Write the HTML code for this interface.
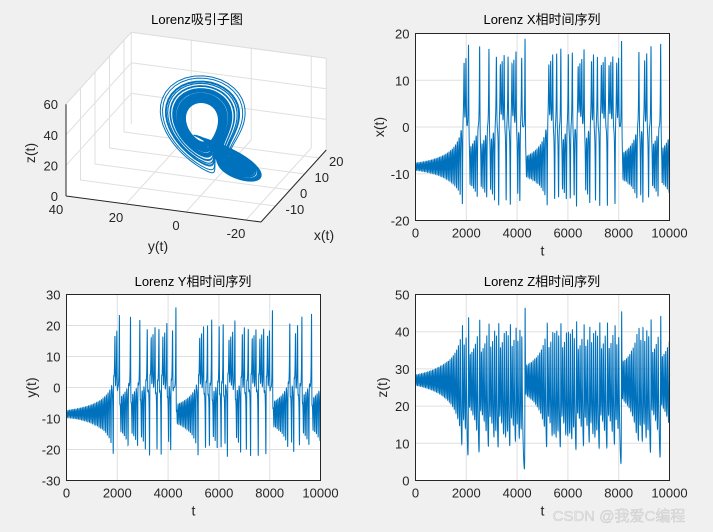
<!DOCTYPE html>
<html><head><meta charset="utf-8"><style>
html,body{margin:0;padding:0;background:#f0f0f0;}
svg{display:block;font-family:"Liberation Sans","Noto Sans CJK SC",sans-serif;}
</style></head><body>
<svg id="s" width="713" height="532" viewBox="0 0 713 532" xmlns="http://www.w3.org/2000/svg">
<rect width="713" height="532" fill="#f0f0f0"/>
<g id="g3d"></g>
<g id="gts"></g>
<text x="197" y="24" font-size="13" text-anchor="middle" fill="#000">Lorenz吸引子图</text>
<text x="542" y="24" font-size="13" text-anchor="middle" fill="#000">Lorenz X相时间序列</text>
<text x="193" y="286" font-size="13" text-anchor="middle" fill="#000">Lorenz Y相时间序列</text>
<text x="542" y="286" font-size="13" text-anchor="middle" fill="#000">Lorenz Z相时间序列</text>
<text x="619" y="521" font-size="15" text-anchor="middle" fill="#e4e4e4" stroke="#bdbdbd" stroke-width="0.3">CSDN @我爱C编程</text>
</svg>
<script>
var NS="http://www.w3.org/2000/svg";
function el(p,t,a,txt){var e=document.createElementNS(NS,t);for(var k in a)e.setAttribute(k,a[k]);if(txt!==undefined)e.textContent=txt;p.appendChild(e);return e;}
var N=10000,dt=0.01,s=10,r=28,b=8/3;
var X=[],Y=[],Z=[];
var x=-7.6,y=-7.6,z=27.6;
function f(x,y,z){return [s*(y-x),x*(r-z)-y,x*y-b*z];}
for(var i=0;i<N;i++){X.push(x);Y.push(y);Z.push(z);
var k1=f(x,y,z),k2=f(x+dt/2*k1[0],y+dt/2*k1[1],z+dt/2*k1[2]),k3=f(x+dt/2*k2[0],y+dt/2*k2[1],z+dt/2*k2[2]),k4=f(x+dt*k3[0],y+dt*k3[1],z+dt*k3[2]);
x+=dt/6*(k1[0]+2*k2[0]+2*k3[0]+k4[0]);y+=dt/6*(k1[1]+2*k2[1]+2*k3[1]+k4[1]);z+=dt/6*(k1[2]+2*k2[2]+2*k3[2]+k4[2]);}
var gts=document.getElementById('gts');
function ts(D,x0,y0,w,h,ymin,ymax,ystep,ylab,ylx){
 el(gts,'rect',{x:x0,y:y0,width:w,height:h,fill:'#fff'});
 for(var t=0;t<=10000;t+=2000){var px=x0+t/10000*w;
  if(t>0&&t<10000)el(gts,'line',{x1:px,y1:y0,x2:px,y2:y0+h,stroke:'#dfdfdf','stroke-width':1});
  el(gts,'text',{x:px,y:y0+h+17,'font-size':13,'text-anchor':'middle',fill:'#262626'},t);}
 for(var v=ymin;v<=ymax;v+=ystep){var py=y0+h-(v-ymin)/(ymax-ymin)*h;
  if(v>ymin&&v<ymax)el(gts,'line',{x1:x0,y1:py,x2:x0+w,y2:py,stroke:'#dfdfdf','stroke-width':1});
  el(gts,'text',{x:x0-6,y:py+5,'font-size':13,'text-anchor':'end',fill:'#262626'},v);}
 var pts=[];for(var i=0;i<D.length;i++){pts.push((x0+i/(D.length-1)*w).toFixed(2)+','+(y0+h-(D[i]-ymin)/(ymax-ymin)*h).toFixed(2));}
 el(gts,'polyline',{points:pts.join(' '),fill:'none',stroke:'#0072bd','stroke-width':1});
 el(gts,'rect',{x:x0,y:y0,width:w,height:h,fill:'none',stroke:'#262626','stroke-width':1});
 el(gts,'text',{x:x0+w/2,y:y0+h+35,'font-size':14,'text-anchor':'middle',fill:'#262626'},'t');
 el(gts,'text',{x:ylx,y:y0+h/2,'font-size':14,'text-anchor':'middle',fill:'#262626',transform:'rotate(-90 '+ylx+' '+(y0+h/2)+')'},ylab);
}
ts(X,415.5,33.5,254,187,-20,20,10,'x(t)',384);
ts(Y,66.5,294.5,254,186,-30,30,10,'y(t)',36);
ts(Z,415.5,294.5,254,186,0,50,10,'z(t)',387);
var g=document.getElementById('g3d');
var xmin=-20,xmax=25,ymax=40,ymn=-25;
function P(x,y,z){return [66+(x-xmin)*1.45+(ymax-y)*3,196-(x-xmin)*1.6+(ymax-y)*0.4-z*1.53];}
function L(a,b,c){var p=P(a[0],a[1],a[2]),q=P(b[0],b[1],b[2]);el(g,'line',{x1:p[0],y1:p[1],x2:q[0],y2:q[1],stroke:c||'#dfdfdf','stroke-width':1});}
function poly(arr){return arr.map(function(a){var p=P(a[0],a[1],a[2]);return p[0]+','+p[1];}).join(' ');}
el(g,'polygon',{points:poly([[xmin,ymax,0],[xmax,ymax,0],[xmax,ymn,0],[xmin,ymn,0]]),fill:'#fff'});
el(g,'polygon',{points:poly([[xmin,ymax,0],[xmax,ymax,0],[xmax,ymax,60],[xmin,ymax,60]]),fill:'#fff'});
el(g,'polygon',{points:poly([[xmax,ymax,0],[xmax,ymn,0],[xmax,ymn,60],[xmax,ymax,60]]),fill:'#fff'});
var xt=[-10,0,10,20],yt=[-20,0,20],zt=[20,40,60];
xt.forEach(function(v){L([v,ymax,0],[v,ymn,0]);L([v,ymax,0],[v,ymax,60]);});
yt.forEach(function(v){L([xmin,v,0],[xmax,v,0]);L([xmax,v,0],[xmax,v,60]);});
zt.forEach(function(v){L([xmin,ymax,v],[xmax,ymax,v]);L([xmax,ymax,v],[xmax,ymn,v]);});
L([xmax,ymax,0],[xmax,ymax,60]);L([xmin,ymax,60],[xmax,ymax,60]);L([xmax,ymn,0],[xmax,ymn,60]);L([xmax,ymn,60],[xmax,ymax,60]);
var pts=[];for(var i=0;i<N;i++){var p=P(X[i],Y[i],Z[i]);pts.push(p[0].toFixed(2)+','+p[1].toFixed(2));}
el(g,'polyline',{points:pts.join(' '),fill:'none',stroke:'#0072bd','stroke-width':1});
L([xmin,ymax,0],[xmin,ymax,60],'#262626');L([xmin,ymax,0],[xmin,ymn,0],'#262626');L([xmin,ymn,0],[xmax,ymn,0],'#262626');
[0,20,40,60].forEach(function(v){var p=P(xmin,ymax,v);el(g,'text',{x:p[0]-8,y:p[1]+5,'font-size':13,'text-anchor':'end',fill:'#262626'},v);});
[40,20,0,-20].forEach(function(v){var p=P(xmin,v,0);el(g,'text',{x:p[0]-10,y:p[1]+18,'font-size':13,'text-anchor':'middle',fill:'#262626'},v);});
xt.forEach(function(v){var p=P(v,ymn,0);el(g,'text',{x:p[0]+10,y:p[1]+8,'font-size':13,'text-anchor':'start',fill:'#262626'},v);});
el(g,'text',{x:158,y:251,'font-size':14,'text-anchor':'middle',fill:'#262626'},'y(t)');
el(g,'text',{x:324,y:240,'font-size':14,'text-anchor':'middle',fill:'#262626'},'x(t)');
el(g,'text',{x:35,y:153,'font-size':14,'text-anchor':'middle',fill:'#262626',transform:'rotate(-90 35 153)'},'z(t)');
</script>
</body></html>
